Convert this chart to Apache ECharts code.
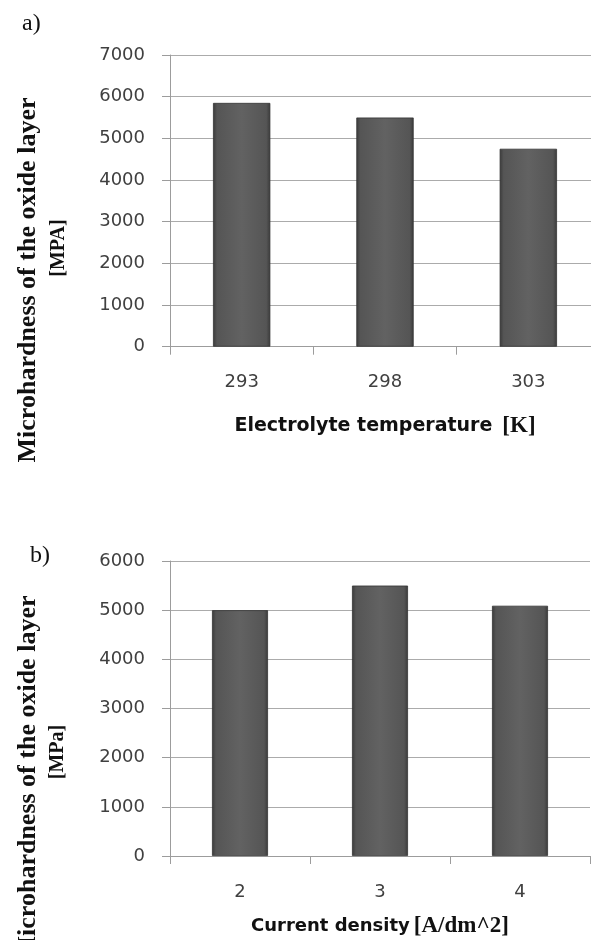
<!DOCTYPE html>
<html>
<head>
<meta charset="utf-8">
<script src="https://cdn.jsdelivr.net/npm/echarts@6/dist/echarts.min.js"></script>
<style>
html,body{margin:0;padding:0;background:#fff;}
#c{width:591px;height:940px;}
</style>
</head>
<body>
<div id="c"></div>
<script>
// Panel a: electrolyte temperature
const categoriesA = ['293', '298', '303'];
const valuesA = [5850, 5500, 4750];
const yMaxA = 7000;
// Panel b: current density
const categoriesB = ['2', '3', '4'];
const valuesB = [5000, 5500, 5090];
const yMaxB = 6000;
const yInterval = 1000;

const chart = echarts.init(document.getElementById('c'), null, {renderer: 'canvas'});

const barColor = {
  type: 'linear', x: 0, y: 0, x2: 1, y2: 0,
  colorStops: [
    {offset: 0, color: '#3a3a3a'},
    {offset: 0.07, color: '#555555'},
    {offset: 0.5, color: '#626262'},
    {offset: 0.93, color: '#555555'},
    {offset: 1, color: '#3a3a3a'}
  ]
};

const labelStyle = {color: '#404040', fontFamily: 'DejaVu Sans', fontSize: 18};
const gridLine = {lineStyle: {color: '#ababab', width: 1}};
const axisLine = {lineStyle: {color: '#9c9c9c', width: 1}};

function xAxis(gridIndex, cats, nameRich, gap) {
  return {
    type: 'category', gridIndex, data: cats,
    axisLine: {show: true, ...axisLine},
    axisTick: {show: true, length: 8, lineStyle: {color: '#9c9c9c'}},
    axisLabel: {...labelStyle, margin: 27},
    name: nameRich, nameLocation: 'middle', nameGap: gap,
    nameTextStyle: {
      rich: {
        s: {fontFamily: 'DejaVu Sans', fontWeight: 'bold', fontSize: 19, color: '#111'},
        s2: {fontFamily: 'DejaVu Sans', fontWeight: 'bold', fontSize: 18, color: '#111'},
        t: {fontFamily: 'Liberation Serif', fontWeight: 'bold', fontSize: 23, color: '#111', padding: [0, 0, 0, 10]},
        t2: {fontFamily: 'Liberation Serif', fontWeight: 'bold', fontSize: 23, color: '#111', padding: [0, 0, 0, 4]}
      }
    }
  };
}
function yAxis(gridIndex, max) {
  return {
    type: 'value', gridIndex, min: 0, max, interval: yInterval,
    axisLine: {show: true, ...axisLine},
    axisTick: {show: true, length: 8, lineStyle: {color: '#9c9c9c'}},
    axisLabel: {...labelStyle, margin: 25, formatter: v => String(v)},
    splitLine: {show: true, ...gridLine}
  };
}

chart.setOption({
  animation: false,
  backgroundColor: '#ffffff',
  grid: [
    {left: 170, top: 55, width: 430, height: 291.7, outerBoundsMode: 'none', containLabel: false},
    {left: 170, top: 561, width: 420, height: 295, outerBoundsMode: 'none', containLabel: false}
  ],
  xAxis: [
    xAxis(0, categoriesA, '{s|Electrolyte temperature}{t|[K]}', 68),
    xAxis(1, categoriesB, '{s2|Current density}{t2|[A/dm^2]}', 59)
  ],
  yAxis: [yAxis(0, yMaxA), yAxis(1, yMaxB)],
  series: [
    {type: 'bar', xAxisIndex: 0, yAxisIndex: 0, data: valuesA, barWidth: '40%',
     itemStyle: {color: barColor, borderColor: '#333', borderWidth: 0.8}},
    {type: 'bar', xAxisIndex: 1, yAxisIndex: 1, data: valuesB, barWidth: '40%',
     itemStyle: {color: barColor, borderColor: '#333', borderWidth: 0.8}}
  ],
  graphic: [
    {type: 'text', left: 22, top: 12, style: {text: 'a)', font: '24px "Liberation Serif"', fill: '#111'}},
    {type: 'text', left: 30, top: 544, style: {text: 'b)', font: '24px "Liberation Serif"', fill: '#111'}},
    {type: 'text', x: 28, y: 280, rotation: Math.PI / 2,
     style: {text: 'Microhardness of the oxide layer', font: 'bold 26px "Liberation Serif"', fill: '#111', align: 'center', verticalAlign: 'middle'}},
    {type: 'text', x: 59, y: 248, rotation: Math.PI / 2,
     style: {text: '[MPA]', font: 'bold 20px "Liberation Serif"', fill: '#111', align: 'center', verticalAlign: 'middle'}},
    {type: 'text', x: 28, y: 778, rotation: Math.PI / 2,
     style: {text: 'Microhardness of the oxide layer', font: 'bold 26px "Liberation Serif"', fill: '#111', align: 'center', verticalAlign: 'middle'}},
    {type: 'text', x: 58, y: 752, rotation: Math.PI / 2,
     style: {text: '[MPa]', font: 'bold 20px "Liberation Serif"', fill: '#111', align: 'center', verticalAlign: 'middle'}}
  ]
});
</script>
</body>
</html>
